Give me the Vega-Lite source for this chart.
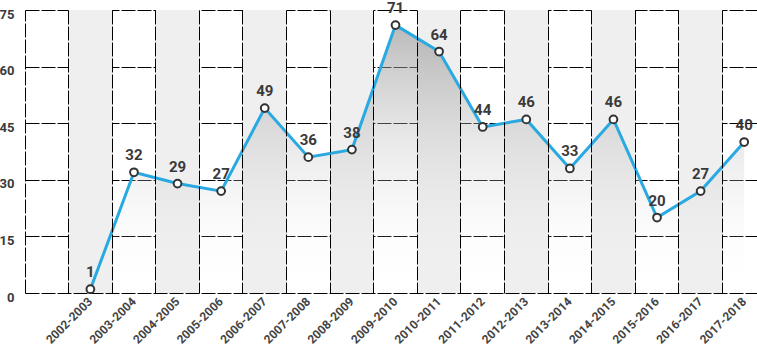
{
  "$schema": "https://vega.github.io/schema/vega-lite/v6.json",
  "width": 732,
  "height": 283,
  "autosize": {"type": "none"},
  "padding": {"left": 25, "top": 10, "right": 0, "bottom": 61},
  "background": "white",
  "config": {
    "view": {"stroke": null},
    "font": "Roboto",
    "axis": {"labelFont": "Roboto", "labelFontWeight": "bold", "labelColor": "#3a3a3a", "gridColor": "#000000", "gridOpacity": 1, "gridWidth": 1, "gridDash": [14, 2], "ticks": false, "title": null}
  },
  "data": {"values": [
    {"period": "2002-2003", "value": 1},
    {"period": "2003-2004", "value": 32},
    {"period": "2004-2005", "value": 29},
    {"period": "2005-2006", "value": 27},
    {"period": "2006-2007", "value": 49},
    {"period": "2007-2008", "value": 36},
    {"period": "2008-2009", "value": 38},
    {"period": "2009-2010", "value": 71},
    {"period": "2010-2011", "value": 64},
    {"period": "2011-2012", "value": 44},
    {"period": "2012-2013", "value": 46},
    {"period": "2013-2014", "value": 33},
    {"period": "2014-2015", "value": 46},
    {"period": "2015-2016", "value": 20},
    {"period": "2016-2017", "value": 27},
    {"period": "2017-2018", "value": 40}
  ]},
  "encoding": {
    "x": {
      "field": "period", "type": "nominal", "sort": null,
      "scale": {"domain": ["", "2002-2003", "2003-2004", "2004-2005", "2005-2006", "2006-2007", "2007-2008", "2008-2009", "2009-2010", "2010-2011", "2011-2012", "2012-2013", "2013-2014", "2014-2015", "2015-2016", "2016-2017", "2017-2018"], "range": [0, 741], "paddingInner": 0, "paddingOuter": 0},
      "axis": {"bandPosition": 1, "grid": true, "domain": false, "labelAngle": 315, "labelAlign": "right", "labelBaseline": "middle", "labelPadding": 6, "labelFontSize": 12, "labelColor": "#444444"}
    },
    "y": {"field": "value", "type": "quantitative", "scale": {"domain": [0, 75], "nice": false},
      "axis": {"values": [0, 15, 30, 45, 60, 75], "grid": true, "domain": true, "domainColor": "#000000", "domainDash": [14, 2], "labelPadding": 11, "labelFontSize": 13, "labelBaseline": "middle", "labelOffset": 4}}
  },
  "layer": [
    {
      "transform": [{"filter": "toNumber(substring(datum.period, 0, 4)) % 2 == 0"}],
      "mark": {"type": "rect", "fill": "#efefef"},
      "encoding": {"y": {"datum": 0, "type": "quantitative"}, "y2": {"datum": 75}}
    },
    {
      "mark": {"type": "area", "interpolate": "linear", "fill": {"gradient": "linear", "x1": 0, "y1": 0, "x2": 0, "y2": 1, "stops": [{"offset": 0, "color": "rgba(140,140,140,0.6)"}, {"offset": 1, "color": "rgba(255,255,255,0)"}]}},
      "encoding": {}
    },
    {
      "mark": {"type": "line", "color": "#29a9e1", "strokeWidth": 3},
      "encoding": {}
    },
    {
      "mark": {"type": "point", "shape": "circle", "filled": true, "fill": "#ffffff", "stroke": "#333333", "strokeWidth": 2, "size": 60, "opacity": 1},
      "encoding": {}
    },
    {
      "mark": {"type": "text", "font": "Roboto", "fontWeight": "bold", "fontSize": 15, "color": "#3a3a3a", "baseline": "bottom", "dy": -9},
      "encoding": {"text": {"field": "value", "type": "quantitative"}}
    }
  ]
}
